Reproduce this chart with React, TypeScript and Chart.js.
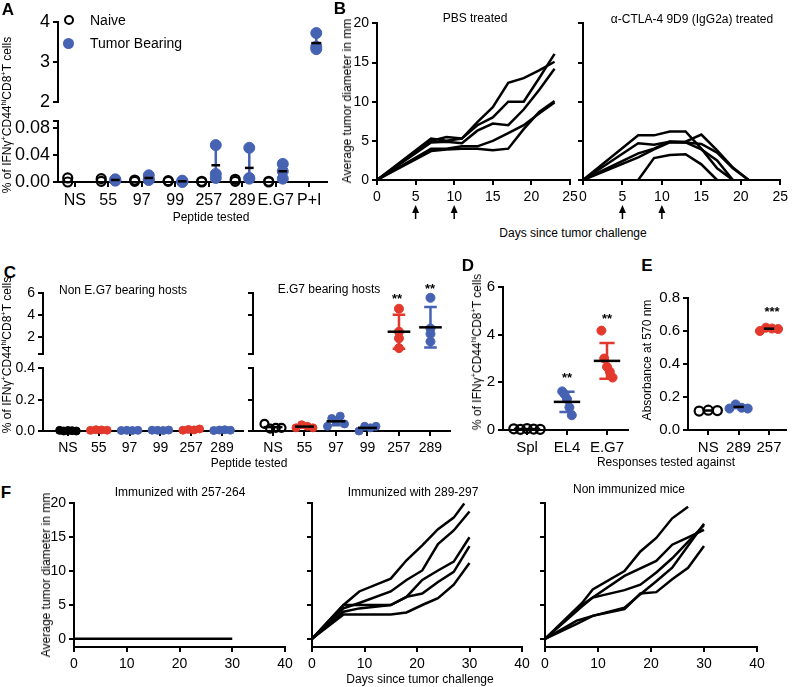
import React, { useEffect, useRef, useMemo } from 'react';
import { Chart, registerables } from 'chart.js';

Chart.register(...registerables);

const FONT = '"Liberation Sans", Arial, Helvetica, sans-serif';
const BLUE = '#4662b2';
const RED = '#e2392c';
const BLACK = '#000000';
const CLEAR = 'rgba(0,0,0,0)';

// ---------------- Panel A ----------------
const aCategories = ['NS', '55', '97', '99', '257', '289', 'E.G7', 'P+I'];
const aNaive: number[][] = [[0.006, 0.0], [0.005, 0.001], [0.003, 0.001], [0.002, 0.001], [0.001, 0.0], [0.004, 0.001], [0.0, 0.001], []];
const aTumor: number[][] = [[], [0.004, 0.002, 0.003], [0.010, 0.004, 0.003], [0.002, 0.001, 0.0], [0.055, 0.012, 0.006], [0.051, 0.006, 0.005], [0.027, 0.016, 0.005], [3.72, 3.38, 3.32]];
const aTumorMean: (number | null)[] = [null, 0.003, 0.006, 0.001, 0.025, 0.021, 0.016, 3.47];
const aTumorSD: (number | null)[] = [null, 0.001, 0.004, 0.001, 0.027, 0.026, 0.011, 0.22];
const aUpperTicks = [2, 3, 4];
const aLowerTicks = [0, 0.04, 0.08];

// ---------------- Panel B ----------------
const bDays = [0, 7, 9, 11, 13, 15, 17, 19, 21, 23];
const bPbs1 = [0, 5.3, 5.0, 5.3, 7.4, 9.3, 12.4, 13.0, 14.0, 15.1];
const bPbs2 = [0, 5.0, 5.5, 5.3, 7.0, 8.0, 10.0, 10.0, 13.0, 16.1];
const bPbs3 = [0, 4.8, 4.9, 4.7, 6.3, 7.2, 7.0, 9.0, 11.5, 14.2];
const bPbs4 = [0, 4.0, 4.0, 4.3, 4.3, 5.0, 6.0, 7.0, 8.5, 9.9];
const bPbs5 = [0, 3.7, 3.9, 4.0, 4.0, 3.8, 4.0, 6.5, 8.7, 10.1];
const bCtlaDays = [0, 7, 9, 11, 13, 15, 17, 19, 21];
const bCtla1: (number | null)[] = [0, 5.7, 5.7, 6.2, 6.2, 4.0, 1.5, 0, null];
const bCtla2: (number | null)[] = [0, 4.7, 4.5, 4.9, 4.9, 5.8, 3.8, 1.6, 0];
const bCtla3: (number | null)[] = [0, 3.4, 4.0, 4.9, 4.8, 4.6, 3.5, 1.5, 0];
const bCtla4: (number | null)[] = [0, 2.9, 3.9, 4.8, 4.8, 3.9, 2.5, 0, null];
const bCtla5: (number | null)[] = [null, 0, 2.8, 3.2, 3.3, 2.0, 0, null, null];
const bTreatmentDays = [5, 10];
const bXTicks = [0, 5, 10, 15, 20, 25];
const bYTicks = [0, 5, 10, 15, 20];

// ---------------- Panel C ----------------
const cCategories = ['NS', '55', '97', '99', '257', '289'];
const cNonBearing: number[][] = [
  [0.004, 0.0, 0.003, 0.002, 0.0],
  [0.004, 0.008, 0.007, 0.005],
  [0.003, 0.004, 0.003, 0.004],
  [0.005, 0.004, 0.003, 0.006],
  [0.005, 0.010, 0.007, 0.013],
  [0.003, 0.006, 0.008, 0.005],
];
const cBearing: number[][] = [
  [0.045, 0.015, 0.02, 0.02],
  [0.02, 0.04, 0.03, 0.02],
  [0.03, 0.08, 0.06, 0.095, 0.045],
  [0.0, 0.03, 0.02, 0.03],
  [4.6, 2.5, 1.9, 1.0],
  [5.6, 2.8, 2.3, 1.6],
];
const cBearingMean = [0.025, 0.028, 0.062, 0.02, 2.5, 2.9];
const cBearingSD: (number | null)[] = [null, null, 0.025, null, 1.55, 1.85];

// ---------------- Panel D ----------------
const dCategories = ['Spl', 'EL4', 'E.G7'];
const dSpl = [0.05, 0.03, 0.06, 0.04, 0.03];
const dEL4 = [1.62, 1.5, 1.3, 0.95, 0.62];
const dEG7 = [4.17, 3.0, 2.65, 2.45, 2.2];
const dMean = [0.04, 1.18, 2.9];
const dSD = [0.015, 0.42, 0.75];

// ---------------- Panel E ----------------
const eCategories = ['NS', '289', '257'];
const eNS = [0.115, 0.12, 0.118];
const e289 = [0.13, 0.155, 0.135, 0.13];
const e257 = [0.6, 0.62, 0.615, 0.612];
const eMean = [0.118, 0.14, 0.614];

// ---------------- Panel F ----------------
const fXTicks = [0, 10, 20, 30, 40];
const fYTicks = [0, 5, 10, 15, 20];
const fImm257Days = [0, 6, 9, 15, 18, 21, 24, 27, 30];
const fImm257 = [0, 0, 0, 0, 0, 0, 0, 0, 0];
const fMidDays = [0, 6, 9, 15, 18, 21, 24, 27, 30];
const fMid1Days = [0, 6, 9, 15, 18, 21, 24, 27, 29];
const fMid1 = [0, 5.0, 7.0, 8.9, 11.6, 13.8, 16.2, 17.9, 20.0];
const fMid2 = [0, 4.5, 5.3, 7.0, 8.7, 10.1, 14.0, 16.0, 18.8];
const fMid3 = [0, 5.0, 5.0, 5.0, 6.2, 8.7, 10.1, 11.4, 15.0];
const fMid4 = [0, 4.0, 4.5, 5.0, 6.2, 6.7, 8.4, 9.9, 13.7];
const fMid5 = [0, 3.6, 3.6, 3.6, 3.9, 5.0, 6.0, 8.0, 11.2];
const fNon1Days = [0, 7, 9, 15, 18, 21, 24, 27];
const fNon1 = [0, 5.3, 7.3, 10.0, 12.9, 14.9, 17.8, 19.5];
const fNon2Days = [0, 7, 9, 15, 21, 24, 27, 30];
const fNon2 = [0, 5.0, 6.1, 9.3, 11.5, 13.9, 15.0, 16.1];
const fNon3Days = [0, 7, 9, 15, 18, 21, 24, 30];
const fNon3 = [0, 4.8, 6.1, 7.2, 8.0, 9.8, 11.9, 16.8];
const fNon4Days = [0, 6, 9, 15, 18, 21, 24, 30];
const fNon4 = [0, 2.7, 3.4, 4.6, 6.6, 8.5, 10.5, 17.0];
const fNon5Days = [0, 6, 9, 15, 18, 21, 24, 27, 30];
const fNon5 = [0, 2.2, 3.4, 4.4, 6.7, 6.9, 8.8, 10.5, 13.7];

// ---------------- helpers ----------------
type AxisSpec = { min: number; max: number; ticks: number[]; label?: (v: number) => string; font?: number; show?: boolean };
type Spec = {
  area: [number, number, number, number];
  yw: number; xh: number; pt: number; pr: number; pb: number;
  x: AxisSpec; y: AxisSpec; datasets: any[]; plugins?: any[];
};

function box(s: Spec) {
  const [x0, y0, x1, y1] = s.area;
  return { left: x0 - s.yw, top: y0 - s.pt, width: x1 - x0 + s.yw + s.pr, height: y1 - y0 + s.pt + s.xh + s.pb };
}

function axis(a: AxisSpec, horizontal: boolean, size: number) {
  return {
    type: 'linear',
    min: a.min,
    max: a.max,
    display: a.show !== false,
    border: { display: true, color: BLACK, width: 2 },
    grid: { display: true, drawOnChartArea: false, drawTicks: true, tickLength: 5, tickWidth: 2, tickColor: BLACK, color: BLACK, lineWidth: 2 },
    ticks: {
      color: BLACK,
      font: { family: FONT, size: a.font ?? 14 },
      autoSkip: false,
      maxRotation: 0,
      minRotation: 0,
      padding: horizontal ? 4 : 3,
      callback: (v: number) => (a.label ? a.label(v) : String(v)),
    },
    afterBuildTicks: (sc: any) => {
      sc.ticks = a.ticks.map((v) => ({ value: v }));
    },
    afterFit: (sc: any) => {
      if (horizontal) sc.height = size;
      else sc.width = size;
    },
  };
}

function buildConfig(s: Spec): any {
  return {
    type: 'scatter',
    data: { datasets: s.datasets },
    options: {
      responsive: false,
      animation: false,
      devicePixelRatio: 1,
      layout: { padding: { top: s.pt, right: s.pr, left: 0, bottom: s.pb } },
      plugins: { legend: { display: false }, tooltip: { enabled: false } },
      scales: {
        x: axis(s.x, true, s.xh),
        y: axis(s.y, false, s.yw),
      },
    },
    plugins: s.plugins ?? [],
  };
}

function spread(n: number, w: number): number[] {
  if (n <= 1 || w === 0) return Array.from({ length: n }, () => 0);
  return Array.from({ length: n }, (_, k) => -w + (2 * w * k) / (n - 1));
}

function groupPoints(vals: number[], xc: number, w: number, keep: (v: number) => boolean) {
  const off = spread(vals.length, w);
  const out: { x: number; y: number }[] = [];
  vals.forEach((v, k) => {
    if (keep(v)) out.push({ x: xc + off[k], y: v });
  });
  return out;
}

function scatterSet(data: { x: number; y: number }[], color: string, hollow: boolean, r: number) {
  return {
    data,
    showLine: false,
    pointRadius: r,
    pointHoverRadius: r,
    pointBackgroundColor: hollow ? CLEAR : color,
    pointBorderColor: hollow ? BLACK : color,
    pointBorderWidth: hollow ? 2.2 : 1,
    clip: false,
  };
}

function lineSet(days: number[], vals: (number | null)[]) {
  const data = days.map((d, k) => ({ x: d, y: vals[k] })).filter((p) => p.y !== null && p.y !== undefined);
  return {
    data,
    showLine: true,
    borderColor: BLACK,
    borderWidth: 2.5,
    pointRadius: 0,
    pointHoverRadius: 0,
    tension: 0,
    fill: false,
    clip: false,
  };
}

type Bar = { x: number; mean: number; sd: number | null; cap: number; half: number; color: string };

function errorBars(items: Bar[]) {
  return {
    id: 'errorBars',
    beforeDatasetsDraw(chart: any) {
      const ctx = chart.ctx;
      const xs = chart.scales.x;
      const ys = chart.scales.y;
      const clampV = (v: number) => Math.min(ys.max, Math.max(ys.min, v));
      ctx.save();
      items.forEach((it) => {
        if (it.sd === null) return;
        const px = xs.getPixelForValue(it.x);
        const top = ys.getPixelForValue(clampV(it.mean + it.sd));
        const bot = ys.getPixelForValue(clampV(it.mean - it.sd));
        const cw = Math.abs(xs.getPixelForValue(it.x + it.cap) - px);
        ctx.strokeStyle = it.color;
        ctx.lineWidth = 2.5;
        ctx.beginPath();
        ctx.moveTo(px, top);
        ctx.lineTo(px, bot);
        if (cw > 0) {
          ctx.moveTo(px - cw, top);
          ctx.lineTo(px + cw, top);
          ctx.moveTo(px - cw, bot);
          ctx.lineTo(px + cw, bot);
        }
        ctx.stroke();
      });
      ctx.restore();
    },
    afterDatasetsDraw(chart: any) {
      const ctx = chart.ctx;
      const xs = chart.scales.x;
      const ys = chart.scales.y;
      ctx.save();
      items.forEach((it) => {
        const px = xs.getPixelForValue(it.x);
        const hw = Math.abs(xs.getPixelForValue(it.x + it.half) - px);
        const py = ys.getPixelForValue(it.mean);
        ctx.strokeStyle = BLACK;
        ctx.lineWidth = 2.5;
        ctx.beginPath();
        ctx.moveTo(px - hw, py);
        ctx.lineTo(px + hw, py);
        ctx.stroke();
      });
      ctx.restore();
    },
  };
}

function arrows(days: number[]) {
  return {
    id: 'arrows',
    afterDraw(chart: any) {
      const ctx = chart.ctx;
      const xs = chart.scales.x;
      const base = chart.chartArea.bottom;
      ctx.save();
      ctx.fillStyle = BLACK;
      ctx.strokeStyle = BLACK;
      ctx.lineWidth = 1.5;
      days.forEach((d) => {
        const px = xs.getPixelForValue(d);
        ctx.beginPath();
        ctx.moveTo(px, base + 32);
        ctx.lineTo(px, base + 39);
        ctx.stroke();
        ctx.beginPath();
        ctx.moveTo(px, base + 25);
        ctx.lineTo(px - 3.5, base + 33);
        ctx.lineTo(px + 3.5, base + 33);
        ctx.closePath();
        ctx.fill();
      });
      ctx.restore();
    },
  };
}

const catLabel = (cats: string[]) => (v: number) => cats[Math.round(v)] ?? '';

function buildSpecs(): Spec[] {
  const specs: Spec[] = [];
  const aX = { min: -0.5, max: 7.53 };
  const aOff = 0.21;
  // A upper
  {
    const ds: any[] = [];
    aTumor.forEach((vals, i) => {
      const p = groupPoints(vals, i + aOff, 0, (v) => v >= 1);
      if (p.length) ds.push(scatterSet(p, BLUE, false, 5.5));
    });
    const bars: Bar[] = [];
    aTumorMean.forEach((m, i) => {
      if (m !== null && m >= 1) bars.push({ x: i + aOff, mean: m, sd: aTumorSD[i], cap: 0, half: 0.15, color: BLUE });
    });
    specs.push({
      area: [58, 18, 327, 106], yw: 55, xh: 0, pt: 10, pr: 12, pb: 10,
      x: { ...aX, ticks: [], show: false },
      y: { min: 2, max: 4, ticks: aUpperTicks, font: 18 },
      datasets: ds,
      plugins: [errorBars(bars)],
    });
  }
  // A lower
  {
    const ds: any[] = [];
    aNaive.forEach((vals, i) => {
      const p = groupPoints(vals, i - aOff, 0, (v) => v < 1);
      if (p.length) ds.push(scatterSet(p, BLACK, true, 4.5));
    });
    aTumor.forEach((vals, i) => {
      const p = groupPoints(vals, i + aOff, 0, (v) => v < 1);
      if (p.length) ds.push(scatterSet(p, BLUE, false, 5.5));
    });
    const bars: Bar[] = [];
    aTumorMean.forEach((m, i) => {
      if (m !== null && m < 1) bars.push({ x: i + aOff, mean: m, sd: aTumorSD[i], cap: 0, half: 0.13, color: BLUE });
    });
    specs.push({
      area: [58, 117, 327, 182], yw: 55, xh: 30, pt: 10, pr: 12, pb: 0,
      x: { ...aX, ticks: aCategories.map((_, i) => i), label: catLabel(aCategories), font: 16 },
      y: { min: 0, max: 0.0912, ticks: [...aLowerTicks, 0.0912], label: (v) => (v > 0.085 ? '' : v.toFixed(2)), font: 18 },
      datasets: ds,
      plugins: [errorBars(bars)],
    });
  }
  // B left
  specs.push({
    area: [377, 22, 570, 180], yw: 35, xh: 45, pt: 10, pr: 12, pb: 0,
    x: { min: 0, max: 25, ticks: bXTicks, font: 14 },
    y: { min: 0, max: 20, ticks: bYTicks, font: 14 },
    datasets: [bPbs1, bPbs2, bPbs3, bPbs4, bPbs5].map((v) => lineSet(bDays, v)),
    plugins: [arrows(bTreatmentDays)],
  });
  // B right
  specs.push({
    area: [583, 22, 782, 180], yw: 10, xh: 45, pt: 10, pr: 10, pb: 0,
    x: { min: 0, max: 25, ticks: bXTicks, font: 14 },
    y: { min: 0, max: 20, ticks: bYTicks, label: () => '', font: 14 },
    datasets: [bCtla1, bCtla2, bCtla3, bCtla4, bCtla5].map((v) => lineSet(bCtlaDays, v)),
    plugins: [arrows(bTreatmentDays)],
  });
  // C
  const cColors = [BLACK, RED, BLUE, BLUE, RED, BLUE];
  const cLX = { min: -0.81, max: 5.68 };
  const cRX = { min: -0.635, max: 5.62 };
  // C left upper (empty)
  specs.push({
    area: [43, 292, 243, 355], yw: 40, xh: 0, pt: 10, pr: 10, pb: 10,
    x: { ...cLX, ticks: [], show: false },
    y: { min: 0.5, max: 6, ticks: [0.5, 2, 4, 6], label: (v) => (v < 1 ? '' : String(v)), font: 14 },
    datasets: [],
  });
  // C left lower
  specs.push({
    area: [43, 367, 243, 431], yw: 40, xh: 30, pt: 10, pr: 10, pb: 0,
    x: { ...cLX, ticks: cCategories.map((_, i) => i), label: catLabel(cCategories), font: 14 },
    y: { min: 0, max: 0.4, ticks: [0, 0.2, 0.4], label: (v) => v.toFixed(1), font: 14 },
    datasets: cNonBearing.map((vals, i) => scatterSet(groupPoints(vals, i, 0.27, () => true), cColors[i], false, 4)),
  });
  // C right upper
  {
    const ds: any[] = [];
    cBearing.forEach((vals, i) => {
      const p = groupPoints(vals, i, 0, (v) => v >= 0.5);
      if (p.length) ds.push(scatterSet(p, cColors[i], false, 4.5));
    });
    const bars: Bar[] = [];
    cBearingMean.forEach((m, i) => {
      if (m >= 0.5) bars.push({ x: i, mean: m, sd: cBearingSD[i], cap: 0.2, half: 0.36, color: cColors[i] });
    });
    specs.push({
      area: [253, 292, 450, 355], yw: 10, xh: 0, pt: 10, pr: 10, pb: 10,
      x: { ...cRX, ticks: [], show: false },
      y: { min: 0.5, max: 6, ticks: [0.5, 4, 6], label: () => '', font: 14 },
      datasets: ds,
      plugins: [errorBars(bars)],
    });
  }
  // C right lower
  {
    const ds: any[] = [];
    cBearing.forEach((vals, i) => {
      const p = groupPoints(vals, i, 0.27, (v) => v < 0.5);
      if (p.length) ds.push(scatterSet(p, cColors[i], i === 0, 4));
    });
    const bars: Bar[] = [];
    cBearingMean.forEach((m, i) => {
      if (m < 0.5) bars.push({ x: i, mean: m, sd: cBearingSD[i], cap: 0.15, half: 0.3, color: cColors[i] });
    });
    specs.push({
      area: [253, 367, 450, 431], yw: 10, xh: 30, pt: 10, pr: 10, pb: 0,
      x: { ...cRX, ticks: cCategories.map((_, i) => i), label: catLabel(cCategories), font: 14 },
      y: { min: 0, max: 0.4, ticks: [0, 0.2, 0.4], label: () => '', font: 14 },
      datasets: ds,
      plugins: [errorBars(bars)],
    });
  }
  // D
  {
    const dColors = [BLACK, BLUE, RED];
    const groups = [dSpl, dEL4, dEG7];
    const widths = [0.33, 0.12, 0.14];
    const ds = groups.map((vals, i) => scatterSet(groupPoints(vals, i, widths[i], () => true), dColors[i], i === 0, 4.5));
    const bars: Bar[] = dMean.map((m, i) => ({ x: i, mean: m, sd: i === 0 ? null : dSD[i], cap: 0.19, half: 0.33, color: dColors[i] }));
    specs.push({
      area: [503, 285, 628, 430], yw: 25, xh: 30, pt: 10, pr: 8, pb: 0,
      x: { min: -0.6, max: 2.525, ticks: [0, 1, 2], label: catLabel(dCategories), font: 15 },
      y: { min: 0, max: 6, ticks: [0, 2, 4, 6], font: 15 },
      datasets: ds,
      plugins: [errorBars(bars)],
    });
  }
  // E
  {
    const eColors = [BLACK, BLUE, RED];
    const groups = [eNS, e289, e257];
    const ds = groups.map((vals, i) => scatterSet(groupPoints(vals, i, 0.3, () => true), eColors[i], i === 0, 4.5));
    const bars: Bar[] = eMean.map((m, i) => ({ x: i, mean: m, sd: null, cap: 0, half: 0.17, color: eColors[i] }));
    specs.push({
      area: [688, 296, 790, 430], yw: 45, xh: 30, pt: 10, pr: 3, pb: 0,
      x: { min: -0.667, max: 2.57, ticks: [0, 1, 2], label: catLabel(eCategories), font: 15 },
      y: { min: 0, max: 0.8, ticks: [0, 0.2, 0.4, 0.6, 0.8], label: (v) => v.toFixed(1), font: 15 },
      datasets: ds,
      plugins: [errorBars(bars)],
    });
  }
  // F
  const fY = { min: -1.2, max: 20, ticks: fYTicks, font: 14 };
  const fX = { min: 0, max: 40, ticks: fXTicks, font: 14 };
  specs.push({
    area: [74, 502, 285, 647], yw: 30, xh: 28, pt: 10, pr: 12, pb: 0,
    x: fX, y: fY,
    datasets: [lineSet(fImm257Days, fImm257)],
  });
  specs.push({
    area: [312, 502, 522, 647], yw: 10, xh: 28, pt: 10, pr: 12, pb: 0,
    x: fX, y: { ...fY, label: () => '' },
    datasets: [
      lineSet(fMid1Days, fMid1),
      lineSet(fMidDays, fMid2),
      lineSet(fMidDays, fMid3),
      lineSet(fMidDays, fMid4),
      lineSet(fMidDays, fMid5),
    ],
  });
  specs.push({
    area: [545, 502, 757, 647], yw: 10, xh: 28, pt: 10, pr: 12, pb: 0,
    x: fX, y: { ...fY, label: () => '' },
    datasets: [
      lineSet(fNon1Days, fNon1),
      lineSet(fNon2Days, fNon2),
      lineSet(fNon3Days, fNon3),
      lineSet(fNon4Days, fNon4),
      lineSet(fNon5Days, fNon5),
    ],
  });
  return specs;
}

// ---------------- text helpers ----------------
function T(props: { x: number; y: number; size?: number; weight?: number; rot?: boolean; left?: boolean; children: any }) {
  const { x, y, size = 12, weight = 400, rot = false, left = false, children } = props;
  const tf = left ? 'translate(0,-50%)' : rot ? 'translate(-50%,-50%) rotate(-90deg)' : 'translate(-50%,-50%)';
  return (
    <div
      style={{
        position: 'absolute',
        left: x,
        top: y,
        transform: tf,
        whiteSpace: 'nowrap',
        fontSize: size,
        fontWeight: weight,
        lineHeight: 1,
        fontFamily: FONT,
        color: BLACK,
      }}
    >
      {children}
    </div>
  );
}

const supStyle: React.CSSProperties = { fontSize: '0.62em', verticalAlign: 'super', lineHeight: 0 };
const IfnTitle = () => (
  <span>
    % of IFNγ<span style={supStyle}>+</span>CD44<span style={supStyle}>hi</span>CD8<span style={supStyle}>+</span>T cells
  </span>
);

export default function App() {
  const specs = useMemo(() => buildSpecs(), []);
  const refs = useRef<(HTMLCanvasElement | null)[]>([]);

  useEffect(() => {
    const charts = specs.map((s, i) => new Chart(refs.current[i] as HTMLCanvasElement, buildConfig(s)));
    return () => charts.forEach((c) => c.destroy());
  }, [specs]);

  return (
    <div
      style={{
        position: 'fixed',
        left: 0,
        top: 0,
        width: 793,
        height: 687,
        background: '#ffffff',
        overflow: 'hidden',
        fontFamily: FONT,
      }}
    >
      {specs.map((s, i) => {
        const b = box(s);
        return (
          <canvas
            key={i}
            ref={(el) => {
              refs.current[i] = el;
            }}
            width={b.width}
            height={b.height}
            style={{ position: 'absolute', left: b.left, top: b.top, width: b.width, height: b.height }}
          />
        );
      })}

      {/* panel letters */}
      <T x={8} y={9} size={17} weight={900}>A</T>
      <T x={340} y={8} size={17} weight={900}>B</T>
      <T x={10} y={272} size={17} weight={900}>C</T>
      <T x={468} y={265} size={17} weight={900}>D</T>
      <T x={647} y={265} size={17} weight={900}>E</T>
      <T x={6} y={492} size={17} weight={900}>F</T>

      {/* A legend */}
      <div style={{ position: 'absolute', left: 63.5, top: 14.5, width: 6, height: 6, border: '2.2px solid #000', borderRadius: '50%' }} />
      <div style={{ position: 'absolute', left: 62.5, top: 37.5, width: 11, height: 11, background: BLUE, borderRadius: '50%' }} />
      <T x={90} y={20} size={14} left>Naive</T>
      <T x={90} y={43} size={14} left>Tumor Bearing</T>

      {/* axis titles */}
      <T x={7} y={115} rot><IfnTitle /></T>
      <T x={211} y={217}>Peptide tested</T>
      <T x={347} y={101} rot>Average tumor diameter in mm</T>
      <T x={475} y={18}>PBS treated</T>
      <T x={692} y={19}>α-CTLA-4 9D9 (IgG2a) treated</T>
      <T x={573} y={233}>Days since tumor challenge</T>

      <T x={7} y={355} rot><IfnTitle /></T>
      <T x={123} y={290}>Non E.G7 bearing hosts</T>
      <T x={329} y={289}>E.G7 bearing hosts</T>
      <T x={249} y={463}>Peptide tested</T>
      <T x={397} y={298} size={13} weight={700}>**</T>
      <T x={430} y={288} size={13} weight={700}>**</T>

      <T x={477} y={352} rot><IfnTitle /></T>
      <T x={567} y={377} size={13} weight={700}>**</T>
      <T x={607} y={318} size={13} weight={700}>**</T>

      <T x={647} y={360} rot>Absorbance at 570 nm</T>
      <T x={772} y={311} size={13} weight={700}>***</T>
      <T x={666} y={462}>Responses tested against</T>

      <T x={46} y={575} rot>Average tumor diameter in mm</T>
      <T x={180} y={492}>Immunized with 257-264</T>
      <T x={413} y={492}>Immunized with 289-297</T>
      <T x={629} y={489}>Non immunized mice</T>
      <T x={420} y={679}>Days since tumor challenge</T>
    </div>
  );
}
